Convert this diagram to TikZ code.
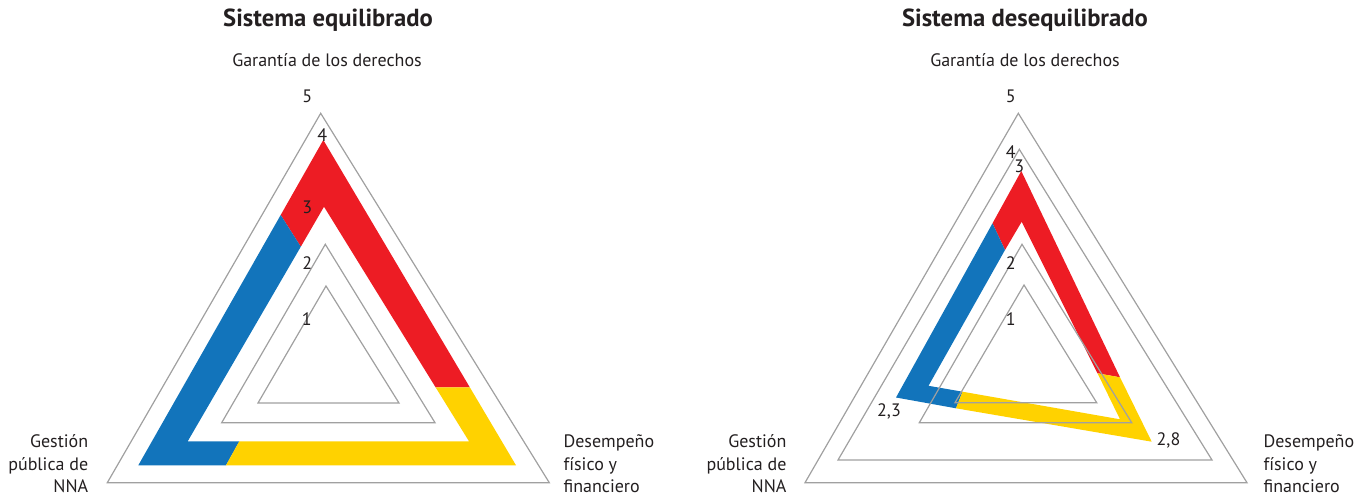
\documentclass[tikz,border=0pt]{standalone}
\usepackage{fontspec}
\setmainfont{PT Sans}
\definecolor{rojo}{RGB}{237,28,36}
\definecolor{azul}{RGB}{18,116,187}
\definecolor{amarillo}{RGB}{255,210,0}
\definecolor{gris}{RGB}{160,160,160}
\definecolor{texto}{RGB}{35,31,32}
\begin{document}
\begin{tikzpicture}[x=0.75pt,y=-0.75pt,
  grid/.style={draw=gris,line width=0.9pt,line join=miter},
  title/.style={font=\fontsize{18.5}{21}\selectfont\bfseries,text=texto,inner sep=0pt},
  axlabel/.style={font=\fontsize{13.5}{16}\selectfont,text=texto,inner sep=0pt},
  num/.style={font=\fontsize{13.5}{16}\selectfont,text=texto,inner sep=0pt},
  side/.style={font=\fontsize{13.5}{16.9}\selectfont,text=texto,inner sep=0pt}]
\useasboundingbox (0,0) rectangle (1371,496);

% ---------------- Left chart ----------------
\coordinate (lA4) at (323.3,140);   \coordinate (lB4) at (138.3,465.3); \coordinate (lC4) at (516,465.3);
\coordinate (lA3) at (324,206.7);   \coordinate (lB3) at (187.7,441.3); \coordinate (lC3) at (469,441.3);
\coordinate (lrbO) at (280.7,215);  \coordinate (lrbI) at (300.8,246.7);
\coordinate (lbyO) at (226,465.3);  \coordinate (lbyI) at (239.3,441.3);
\coordinate (lryO) at (469.8,387.3);\coordinate (lryI) at (435.6,387.3);
\fill[rojo] (lrbO) -- (lA4) -- (lryO) -- (lryI) -- (lA3) -- (lrbI) -- cycle;
\fill[azul] (lrbO) -- (lB4) -- (lbyO) -- (lbyI) -- (lB3) -- (lrbI) -- cycle;
\fill[amarillo] (lbyO) -- (lC4) -- (lryO) -- (lryI) -- (lC3) -- (lbyI) -- cycle;
\draw[grid] (320.7,113.3) -- (107.3,482.7) -- (549.3,482.7) -- cycle;
\draw[grid] (325.3,244.3) -- (221.7,422.7) -- (435,422.7) -- cycle;
\draw[grid] (326,286) -- (258,403) -- (399,403) -- cycle;

\node[title] (tl) at (328,20) {Sistema equilibrado};
\node[axlabel] (gl) at (327,60) {Garantía de los derechos};
\node[num] (l5) at (307.3,96) {5};
\node[num] (l4) at (322.3,135) {4};
\node[num] (l3) at (307.3,207) {3};
\node[num] (l2) at (307.3,262.7) {2};
\node[num] (l1) at (306.7,319.3) {1};
\node[side,anchor=east,align=right] (gpl) at (88.5,464) {Gestión\\pública de\\NNA};
\node[side,anchor=west,align=left] (dfl) at (563.3,464) {Desempeño\\físico y\\financiero};

% ---------------- Right chart ----------------
\coordinate (rAO) at (1021.3,171);  \coordinate (rBO) at (896,397.5); \coordinate (rCO) at (1151.7,441.7);
\coordinate (rAI) at (1021.7,221.7);\coordinate (rBI) at (928.5,385.8); \coordinate (rCI) at (1120,419.3);
\coordinate (rrbO) at (992.5,223.3);\coordinate (rrbI) at (1005,250);
\coordinate (rbyO) at (956,408.3);  \coordinate (rbyI) at (962.5,391.7);
\coordinate (rryO) at (1120,377.3); \coordinate (rryI) at (1097.5,373.3);
\fill[rojo] (rrbO) -- (rAO) -- (rryO) -- (rryI) -- (rAI) -- (rrbI) -- cycle;
\fill[azul] (rrbO) -- (rBO) -- (rbyO) -- (rbyI) -- (rBI) -- (rrbI) -- cycle;
\fill[amarillo] (rbyO) -- (rCO) -- (rryO) -- (rryI) -- (rCI) -- (rbyI) -- cycle;
\draw[grid] (1018.3,113.3) -- (805,482.7) -- (1247,482.7) -- cycle;
\draw[grid] (1019.3,149.3) -- (838,460) -- (1212,460) -- cycle;
\draw[grid] (1022,244.3) -- (919.3,422.7) -- (1131.7,422.7) -- cycle;
\draw[grid] (1024,285) -- (955,402.7) -- (1096.7,402.7) -- cycle;

\node[title] (tr) at (1025,20) {Sistema desequilibrado};
\node[axlabel] (gr) at (1025,60) {Garantía de los derechos};
\node[num] (r5) at (1010.7,96) {5};
\node[num] (r4) at (1010.7,151.7) {4};
\node[num] (r3) at (1019.3,166.7) {3};
\node[num] (r2) at (1010.7,262.7) {2};
\node[num] (r1) at (1010.7,319.3) {1};
\node[num] (v23) at (889,411.5) {2,3};
\node[num] (v28) at (1168.5,440) {2,8};
\node[side,anchor=east,align=right] (gpr) at (786.7,464) {Gestión\\pública de\\NNA};
\node[side,anchor=west,align=left] (dfr) at (1263.3,464) {Desempeño\\físico y\\financiero};
\end{tikzpicture}
\end{document}
